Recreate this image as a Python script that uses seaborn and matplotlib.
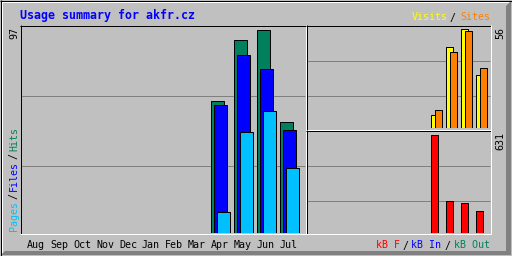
import numpy as np
import pandas as pd
import matplotlib
matplotlib.use("Agg")
import matplotlib.pyplot as plt
import seaborn as sns
from matplotlib.patches import Polygon

# ---------------- data ----------------
months = ["Aug", "Sep", "Oct", "Nov", "Dec", "Jan", "Feb", "Mar", "Apr", "May", "Jun", "Jul"]
hits = [0, 0, 0, 0, 0, 0, 0, 0, 63, 92, 97, 53]
files = [0, 0, 0, 0, 0, 0, 0, 0, 61, 85, 78, 49]
pages = [0, 0, 0, 0, 0, 0, 0, 0, 10, 48, 58, 31]
visits = [0, 0, 0, 0, 0, 0, 0, 0, 7, 46, 56, 30]
sites = [0, 0, 0, 0, 0, 0, 0, 0, 10, 43, 55, 34]
kb_f = [0, 0, 0, 0, 0, 0, 0, 0, 631, 204, 191, 140]
kb_in = [0] * 12
kb_out = [0] * 12
title = "Usage summary for akfr.cz"

BG = "#C0C0C0"
DK = "#808080"
C_HITS = "#00805C"
C_FILES = "#0000FF"
C_PAGES = "#00C0FF"
C_VISITS = "#FFFF00"
C_SITES = "#FF8000"
C_KBF = "#FF0000"
C_KBIN = "#0000FF"
C_KBOUT = "#00805C"
MONO = "DejaVu Sans Mono"
FS_SMALL = 7.18
FS_TITLE = 8.37
LW = 0.72

W, H = 512, 256
fig = plt.figure(figsize=(W / 100, H / 100), dpi=100, facecolor=BG)

# pixel canvas (background decorations + text)
cv = fig.add_axes([0, 0, 1, 1], zorder=0)
cv.set_xlim(0, W)
cv.set_ylim(H, 0)
cv.axis("off")
cv.patch.set_facecolor(BG)


def hline(y, x0, x1, c):
    cv.plot([x0, x1 + 1], [y + 0.5, y + 0.5], color=c, lw=LW, solid_capstyle="butt")


def vline(x, y0, y1, c):
    cv.plot([x + 0.5, x + 0.5], [y0, y1 + 1], color=c, lw=LW, solid_capstyle="butt")


# outer frame
cv.add_patch(Polygon([(1, 1), (511, 1), (509, 3), (3, 3), (3, 253), (1, 255)],
                     closed=True, facecolor="white", edgecolor="none"))
cv.add_patch(Polygon([(511, 1), (511, 255), (1, 255), (5, 251), (506, 251), (506, 6)],
                     closed=True, facecolor=DK, edgecolor="none"))
hline(0, 0, 511, "black")
hline(255, 0, 511, "black")
vline(0, 0, 255, "black")
vline(511, 0, 255, "black")

# grid lines
for y in (95, 165):
    hline(y, 21, 304, DK)
for y in (60, 95):
    hline(y, 307, 489, DK)
for y in (165, 200):
    hline(y, 307, 489, DK)

# panel borders
hline(25, 20, 305, "black")
vline(20, 25, 233, "black")
hline(233, 20, 305, "white")
vline(305, 25, 233, "white")

hline(25, 306, 490, "black")
vline(306, 25, 129, "black")
hline(129, 306, 490, "white")
vline(490, 25, 129, "white")

hline(130, 306, 490, "black")
vline(306, 130, 233, "black")
hline(233, 306, 490, "white")
vline(490, 130, 233, "white")


def px_axes(x0, y0, x1, y1):
    ax = fig.add_axes([x0 / W, 1 - y1 / H, (x1 - x0) / W, (y1 - y0) / H], zorder=1)
    ax.patch.set_alpha(0)
    return ax


def bars(ax, centers, vals, color, width):
    df = pd.DataFrame({"x": centers, "y": vals})
    df = df[df["y"] > 0]
    if len(df) == 0:
        return
    sns.barplot(data=df, x="x", y="y", native_scale=True, width=width, color=color,
                saturation=1, edgecolor="black", linewidth=LW, errorbar=None, ax=ax)


idx = np.arange(12)

# main panel: hits / files / pages
ax1 = px_axes(20.5, 25.5, 305.5, 232.5)
u = 23.0
bars(ax1, idx + 12.5 / u, hits, C_HITS, 13 / u)
bars(ax1, idx + 15.5 / u, files, C_FILES, 13 / u)
bars(ax1, idx + 18.5 / u, pages, C_PAGES, 13 / u)
ax1.set_xlim(0, 285 / u)
ax1.set_ylim(0, max(hits) * 207 / 203)
ax1.axis("off")

# top-right: visits / sites
ax2 = px_axes(305.5, 25.5, 490.5, 127.5)
u2 = 15.0
bars(ax2, idx + 8.5 / u2, visits, C_VISITS, 7 / u2)
bars(ax2, idx + 12.5 / u2, sites, C_SITES, 7 / u2)
ax2.set_xlim(0, 185 / u2)
ax2.set_ylim(0, max(visits) * 102 / 98)
ax2.axis("off")

# bottom-right: kB F / In / Out
ax3 = px_axes(305.5, 130.5, 490.5, 232.5)
kmax = max(max(kb_f), max(kb_in), max(kb_out))
bars(ax3, idx + 8.5 / u2, kb_f, C_KBF, 7 / u2)
bars(ax3, idx + 10.5 / u2, kb_in, C_KBIN, 7 / u2)
bars(ax3, idx + 12.5 / u2, kb_out, C_KBOUT, 7 / u2)
ax3.set_xlim(0, 185 / u2)
ax3.set_ylim(0, kmax * 102 / 98)
ax3.axis("off")

# ---------------- text ----------------
def t(x, y, s, c="black", **kw):
    kw.setdefault("fontsize", FS_SMALL)
    kw.setdefault("family", MONO)
    cv.text(x, y, s, color=c, **kw)


t(20, 19.5, title, C_FILES, fontsize=FS_TITLE, fontweight="bold", ha="left", va="baseline")

t(412, 20.5, "Visits", C_VISITS, ha="left", va="baseline")
t(452.7, 20.5, "/", "black", ha="center", va="baseline")
t(460, 20.5, "Sites", C_SITES, ha="left", va="baseline")

for i, m in enumerate(months):
    t(27 + 23 * i, 248.5, m, "black", ha="left", va="baseline")

t(376, 248.5, "kB F", C_KBF, ha="left", va="baseline")
t(405.7, 248.5, "/", "black", ha="center", va="baseline")
t(411, 248.5, "kB In", C_KBIN, ha="left", va="baseline")
t(447.9, 248.5, "/", "black", ha="center", va="baseline")
t(454, 248.5, "kB Out", C_KBOUT, ha="left", va="baseline")

# vertical labels
t(14, 27, str(max(hits)), "black", rotation=90, ha="center", va="top")
t(500, 27, str(max(visits)), "black", rotation=90, ha="center", va="top")
t(500, 132, str(kmax), "black", rotation=90, ha="center", va="top")

t(14, 231, "Pages", C_PAGES, rotation=90, ha="center", va="bottom")
t(14, 196, "/", "black", rotation=90, ha="center", va="center")
t(14, 191, "Files", C_FILES, rotation=90, ha="center", va="bottom")
t(14, 156, "/", "black", rotation=90, ha="center", va="center")
t(14, 151, "Hits", C_HITS, rotation=90, ha="center", va="bottom")

fig.savefig("out.png", dpi=100, facecolor=BG)
